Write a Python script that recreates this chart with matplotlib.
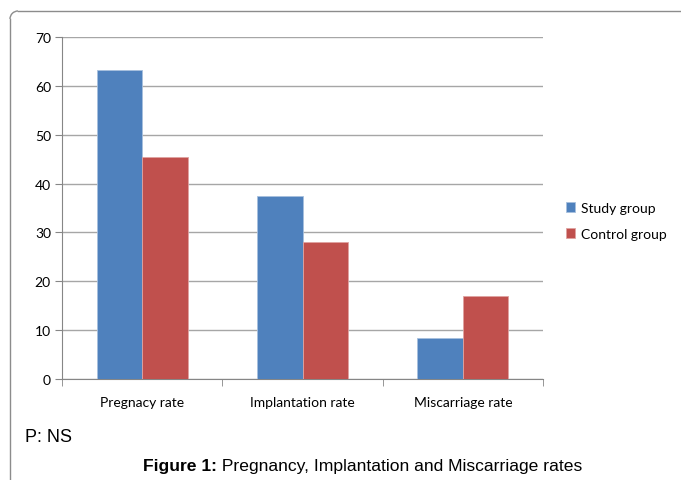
import matplotlib
matplotlib.use("Agg")
import matplotlib.pyplot as plt
import numpy as np
from matplotlib.lines import Line2D
from matplotlib.patches import Arc

categories = ["Pregnacy rate", "Implantation rate", "Miscarriage rate"]
series_names = ["Study group", "Control group"]
study = [63.2, 37.4, 8.3]
control = [45.5, 28.0, 17.0]
yticks = [0, 10, 20, 30, 40, 50, 60, 70]

blue = "#4F81BD"
red = "#C0504D"
lab_font = "Lato"

fig = plt.figure(figsize=(6.81, 4.81), dpi=100)
ax = fig.add_axes([62/681, 1-380/481, (543-62)/681, (380-38)/481])

x = np.arange(len(categories))
w = 0.283
ax.bar(x - w/2, study, w, color=blue, edgecolor="#A7C0DE", linewidth=0.6, label=series_names[0], zorder=3)
ax.bar(x + w/2, control, w, color=red, edgecolor="#DFA3A1", linewidth=0.6, label=series_names[1], zorder=3)

ax.set_xlim(-0.5, len(categories) - 0.5)
ax.set_ylim(0, 70)
ax.set_yticks(yticks)
ax.set_yticklabels([str(v) for v in yticks], fontfamily=lab_font, fontsize=10)
ax.yaxis.grid(True, color="#A6A6A6", linewidth=1, zorder=0)
ax.set_axisbelow(True)

ax.set_xticks(x)
ax.set_xticklabels(categories, fontfamily=lab_font, fontsize=10)
ax.tick_params(axis="x", which="major", length=0, pad=12)
ax.set_xticks(np.arange(len(categories) + 1) - 0.5, minor=True)
ax.tick_params(axis="x", which="minor", length=5, color="#868686", direction="out")
ax.tick_params(axis="y", length=5, color="#868686", direction="out", pad=3)

for s in ["top", "right"]:
    ax.spines[s].set_visible(False)
ax.spines["left"].set_color("#868686")
ax.spines["bottom"].set_color("#868686")

leg = ax.legend(loc="upper left", bbox_to_anchor=(553/681, 1-190/481), bbox_transform=fig.transFigure,
                frameon=False, prop={"family": lab_font, "size": 10}, handlelength=0.7, handleheight=0.7,
                handletextpad=0.4, labelspacing=1.05)

# frame
fig.add_artist(Line2D([10/681, 10/681], [0, 1-20/481], transform=fig.transFigure, color="#8C8C8C", linewidth=1))
fig.add_artist(Line2D([18/681, 1], [1-12/481, 1-12/481], transform=fig.transFigure, color="#8C8C8C", linewidth=1))
fig.add_artist(Arc((18/681, 1-20/481), 16/681, 16/481, theta1=90, theta2=180, transform=fig.transFigure, color="#8C8C8C", linewidth=1))

fig.text(25/681, 1-438/481, "P: NS", fontfamily="Liberation Sans", fontsize=13, va="center", ha="left")
t1 = fig.text(143/681, 1-467/481, "Figure 1:", fontfamily="Liberation Sans", fontsize=12.6, fontweight="bold", va="center", ha="left")
fig.canvas.draw()
bb = t1.get_window_extent(renderer=fig.canvas.get_renderer())
fig.text(bb.x1 / fig.bbox.width, 1-467/481, " Pregnancy, Implantation and Miscarriage rates", fontfamily="Liberation Sans", fontsize=12.6, va="center", ha="left")

fig.savefig("out.png", dpi=100)
